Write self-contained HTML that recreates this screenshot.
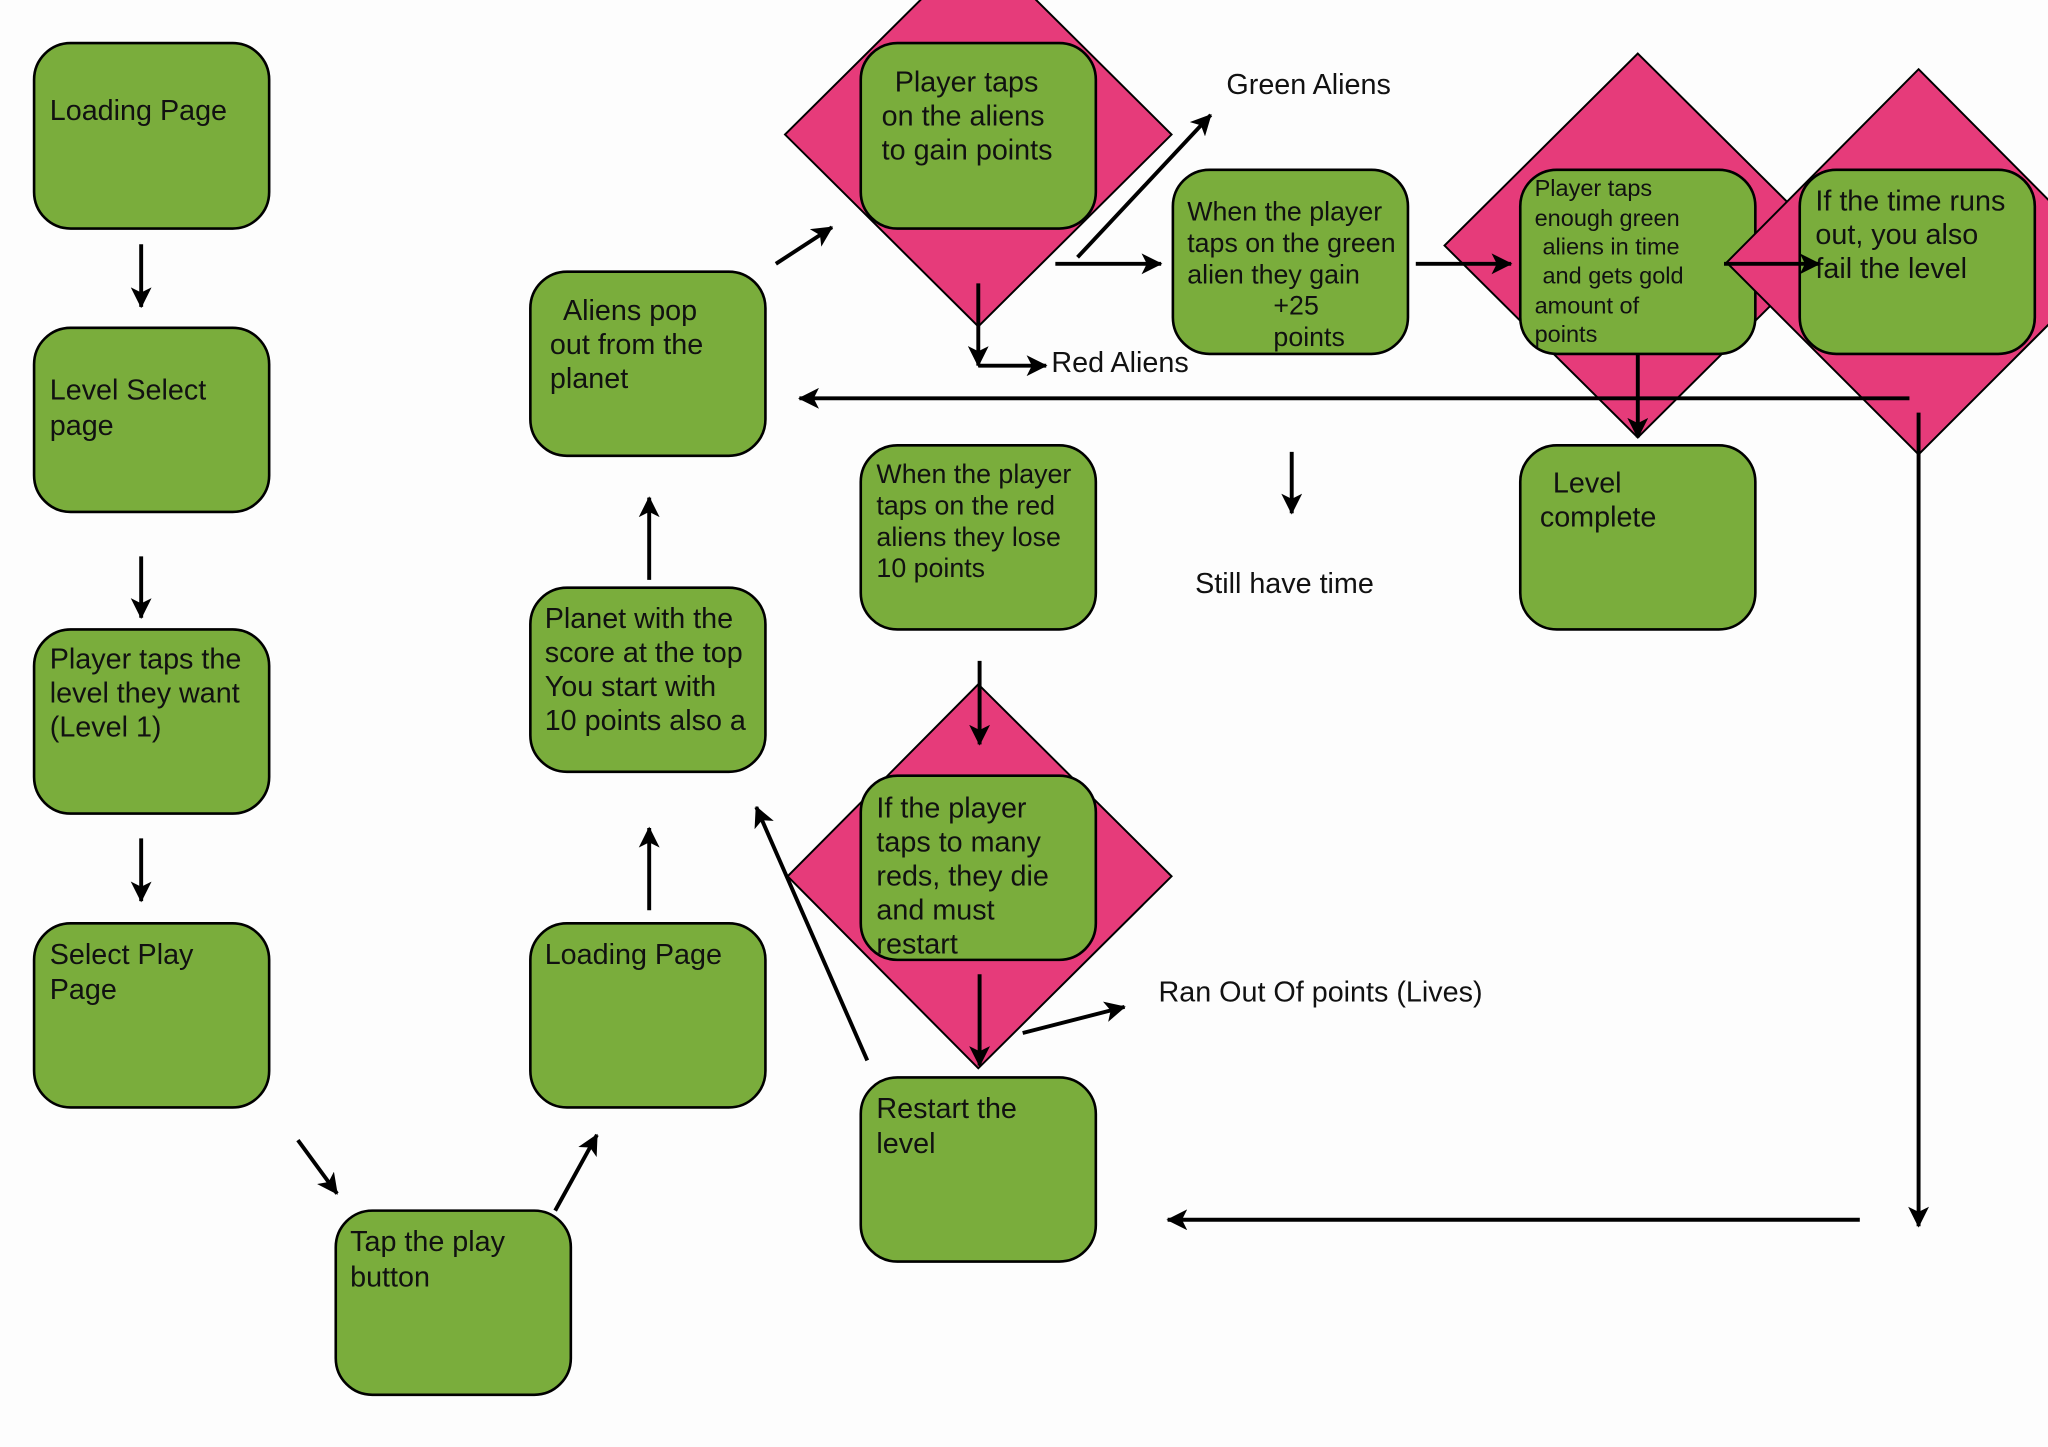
<!DOCTYPE html>
<html><head><meta charset="utf-8"><style>
html,body{margin:0;padding:0;background:#fdfdfd;}
svg{display:block;}
text{font-family:"Liberation Sans",sans-serif;font-size:22px;fill:#111;}
.s{font-size:18px;}
.m{font-size:20.5px;}
</style></head><body>
<svg width="2048" height="1447" viewBox="0 0 1568 1108" xmlns="http://www.w3.org/2000/svg">
<defs>
<marker id="b" markerWidth="16" markerHeight="16" refX="15" refY="8" orient="auto" markerUnits="userSpaceOnUse">
<path d="M0,0 L16,8 L0,16 L4,8 Z" fill="#000"/>
</marker>
</defs>
<rect width="1568" height="1108" fill="#fdfdfd"/>
<g fill="#e63b7a" stroke="#000" stroke-width="1.5">
<polygon points="749,-44 897,103 749,250 601,103"/>
<polygon points="749,524 897,671 749,818 603,671"/>
<polygon points="1254,41 1402,188 1254,335 1106,188"/>
</g>
<g fill="#7aad3c" stroke="#000" stroke-width="2">
<rect x="26" y="33" width="180" height="142" rx="28"/>
<rect x="26" y="251" width="180" height="141" rx="28"/>
<rect x="26" y="482" width="180" height="141" rx="28"/>
<rect x="26" y="707" width="180" height="141" rx="28"/>
<rect x="257" y="927" width="180" height="141" rx="28"/>
<rect x="406" y="707" width="180" height="141" rx="28"/>
<rect x="406" y="450" width="180" height="141" rx="28"/>
<rect x="406" y="208" width="180" height="141" rx="28"/>
<rect x="659" y="33" width="180" height="142" rx="28"/>
<rect x="898" y="130" width="180" height="141" rx="28"/>
<rect x="1164" y="130" width="180" height="141" rx="28"/>
<rect x="1164" y="341" width="180" height="141" rx="28"/>
<rect x="659" y="341" width="180" height="141" rx="28"/>
<rect x="659" y="594" width="180" height="141" rx="28"/>
<rect x="659" y="825" width="180" height="141" rx="28"/>
</g>
<polygon points="1469,53 1616,201 1469,348 1322,201" fill="#e63b7a" stroke="#000" stroke-width="1.5"/>
<rect x="1378" y="130" width="180" height="141" rx="28" fill="#7aad3c" stroke="#000" stroke-width="2"/>

<text x="38" y="92">Loading Page</text>
<text x="38" y="306">Level Select</text><text x="38" y="333">page</text>
<text x="38" y="512">Player taps the</text><text x="38" y="538">level they want</text><text x="38" y="564">(Level 1)</text>
<text x="38" y="738">Select Play</text><text x="38" y="765">Page</text>
<text x="268" y="958">Tap the play</text><text x="268" y="985">button</text>
<text x="417" y="738">Loading Page</text>
<text x="417" y="481">Planet with the</text><text x="417" y="507">score at the top</text><text x="417" y="533">You start with</text><text x="417" y="559">10 points also a</text>
<text x="431" y="245">Aliens pop</text><text x="421" y="271">out from the</text><text x="421" y="297">planet</text>
<text x="685" y="70">Player taps</text><text x="675" y="96">on the aliens</text><text x="675" y="122">to gain points</text>
<text class="m" x="909" y="169">When the player</text><text class="m" x="909" y="193">taps on the green</text><text class="m" x="909" y="217">alien they gain</text><text class="m" x="975" y="241">+25</text><text class="m" x="975" y="265">points</text>
<text class="s" x="1175" y="150">Player taps</text><text class="s" x="1175" y="173">enough green</text><text class="s" x="1181" y="195">aliens in time</text><text class="s" x="1181" y="217">and gets gold</text><text class="s" x="1175" y="240">amount of</text><text class="s" x="1175" y="262">points</text>
<text x="1390" y="161">If the time runs</text><text x="1390" y="187">out, you also</text><text x="1390" y="213">fail the level</text>
<text x="1189" y="377">Level</text><text x="1179" y="403">complete</text>
<text class="m" x="671" y="370">When the player</text><text class="m" x="671" y="394">taps on the red</text><text class="m" x="671" y="418">aliens they lose</text><text class="m" x="671" y="442">10 points</text>
<text x="671" y="626">If the player</text><text x="671" y="652">taps to many</text><text x="671" y="678">reds, they die</text><text x="671" y="704">and must</text><text x="671" y="730">restart</text>
<text x="671" y="856">Restart the</text><text x="671" y="883">level</text>
<text x="939" y="72">Green Aliens</text>
<text x="805" y="285">Red Aliens</text>
<text x="915" y="454">Still have time</text>
<text x="887" y="767">Ran Out Of points (Lives)</text>

<g stroke="#000" stroke-width="3" fill="none" marker-end="url(#b)">
<line x1="108" y1="187" x2="108" y2="235"/>
<line x1="108" y1="426" x2="108" y2="473"/>
<line x1="108" y1="642" x2="108" y2="690"/>
<line x1="228" y1="873" x2="258" y2="914"/>
<line x1="425" y1="927" x2="457" y2="869"/>
<line x1="497" y1="697" x2="497" y2="634"/>
<line x1="497" y1="444" x2="497" y2="381"/>
<line x1="594" y1="202" x2="637" y2="174"/>
<line x1="825" y1="197" x2="927" y2="88"/>
<line x1="749" y1="217" x2="749" y2="280"/>
<line x1="749" y1="280" x2="801" y2="280"/>
<line x1="808" y1="202" x2="889" y2="202"/>
<line x1="1084" y1="202" x2="1157" y2="202"/>
<line x1="1320" y1="202" x2="1393" y2="202"/>
<line x1="1254" y1="271" x2="1254" y2="335"/>
<line x1="1462" y1="305" x2="612" y2="305"/>
<line x1="989" y1="346" x2="989" y2="393"/>
<line x1="1469" y1="316" x2="1469" y2="939"/>
<line x1="1424" y1="934" x2="894" y2="934"/>
<line x1="750" y1="506" x2="750" y2="570"/>
<line x1="750" y1="746" x2="750" y2="816"/>
<line x1="783" y1="791" x2="861" y2="771"/>
<line x1="664" y1="812" x2="579" y2="618"/>
</g>
</svg>
</body></html>
